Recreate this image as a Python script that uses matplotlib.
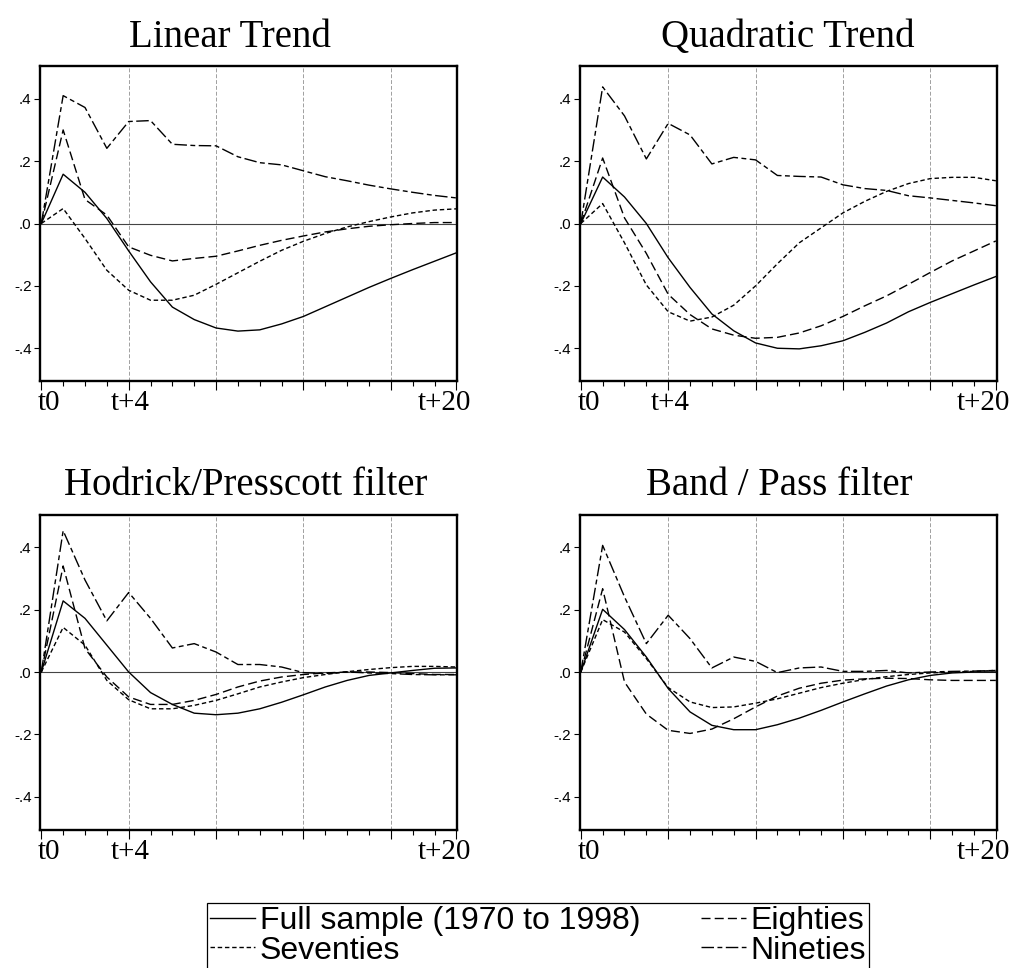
import matplotlib
matplotlib.use('Agg')
import matplotlib.pyplot as plt
from matplotlib.transforms import ScaledTranslation

# 20 periods after the shock, t0 ... t+20 on the axis
steps = list(range(20))

titles = ['Linear Trend', 'Quadratic Trend', 'Hodrick/Presscott filter', 'Band / Pass filter']
series_names = ['Full sample (1970 to 1998)', 'Seventies', 'Eighties', 'Nineties']

lin_full = [0, .158, .100, .016, -.088, -.187, -.268, -.308, -.335, -.345,
            -.341, -.322, -.298, -.267, -.236, -.205, -.176, -.148, -.121, -.094]
lin_seventies = [0, .048, -.048, -.150, -.214, -.246, -.246, -.230, -.195, -.158,
                 -.121, -.086, -.057, -.032, -.011, .006, .021, .034, .043, .047]
lin_eighties = [0, .300, .077, .027, -.075, -.102, -.120, -.112, -.105, -.088,
                -.070, -.054, -.040, -.027, -.017, -.009, -.004, 0, .003, .003]
lin_nineties = [0, .410, .372, .241, .327, .330, .254, .250, .249, .214,
                .195, .188, .169, .150, .137, .123, .111, .100, .090, .082]

quad_full = [0, .149, .085, 0, -.110, -.205, -.290, -.344, -.383, -.400,
             -.402, -.392, -.376, -.349, -.319, -.283, -.253, -.225, -.197, -.170]
quad_seventies = [0, .064, -.062, -.197, -.283, -.313, -.300, -.262, -.200, -.129,
                  -.062, -.014, .034, .071, .103, .128, .144, .148, .148, .137]
quad_eighties = [0, .210, .018, -.096, -.227, -.292, -.338, -.358, -.368, -.365,
                 -.351, -.328, -.298, -.264, -.232, -.195, -.157, -.120, -.088, -.056]
quad_nineties = [0, .438, .345, .207, .321, .284, .191, .212, .204, .154,
                 .151, .149, .124, .112, .106, .089, .082, .074, .066, .057]

hp_full = [0, .228, .172, .086, 0, -.066, -.104, -.132, -.137, -.132,
           -.118, -.097, -.073, -.048, -.027, -.011, -.003, .005, .012, .013]
hp_seventies = [0, .143, .086, -.027, -.089, -.118, -.118, -.107, -.091, -.070,
                -.048, -.032, -.018, -.008, .001, .008, .014, .018, .018, .016]
hp_eighties = [0, .340, .075, -.016, -.080, -.104, -.104, -.091, -.072, -.048,
               -.029, -.016, -.008, -.003, 0, 0, -.002, -.005, -.008, -.008]
hp_nineties = [0, .453, .295, .164, .255, .172, .077, .091, .064, .024,
               .024, .016, -.002, -.005, 0, -.003, -.005, -.008, -.009, -.009]

bp_full = [0, .201, .136, .048, -.053, -.128, -.171, -.185, -.185, -.169,
           -.148, -.123, -.096, -.070, -.045, -.025, -.011, -.003, 0, 0]
bp_seventies = [0, .168, .128, .043, -.050, -.096, -.114, -.112, -.100, -.086,
                -.068, -.050, -.036, -.024, -.015, -.008, -.003, 0, .002, .005]
bp_eighties = [0, .267, -.032, -.135, -.187, -.197, -.183, -.150, -.112, -.077,
               -.052, -.036, -.026, -.022, -.020, -.021, -.025, -.027, -.027, -.027]
bp_nineties = [0, .406, .241, .091, .182, .107, .013, .048, .034, -.002,
               .013, .016, .002, .002, .005, -.003, 0, .002, .003, .005]

panels = [
    [lin_full, lin_seventies, lin_eighties, lin_nineties],
    [quad_full, quad_seventies, quad_eighties, quad_nineties],
    [hp_full, hp_seventies, hp_eighties, hp_nineties],
    [bp_full, bp_seventies, bp_eighties, bp_nineties],
]

yticks = [-.4, -.2, 0, .2, .4]
ytick_labels = ['-.4', '-.2', '.0', '.2', '.4']
xticks = [0, 4, 8, 12, 16, 19]
xtick_labels = [
    ['t0', 't+4', '', '', '', 't+20'],
    ['t0', 't+4', '', '', '', 't+20'],
    ['t0', 't+4', '', '', '', 't+20'],
    ['t0', '', '', '', '', 't+20'],
]

styles = ['-', (0, (3.2, 2.0)), (0, (6.5, 3.0)), (0, (9, 2.5, 3.5, 2.5))]

W, H = 1022, 968
fig = plt.figure(figsize=(W / 100, H / 100), dpi=100)

# pixel boxes of the four panels: left, top
boxes = [(40, 66), (579.5, 66), (40, 514.5), (579.5, 514.5)]
bw, bh = 417, 315
title_x = [0.456, 0.5, 0.494, 0.48]
label_shift = [8, 2, 0, 0, 0, -12]   # px offsets of the x tick labels

handles = []
for k, (left, top) in enumerate(boxes):
    ax = fig.add_axes([left / W, 1 - (top + bh) / H, bw / W, bh / H])
    for g in [4, 8, 12, 16]:
        ax.axvline(g, color='#a0a0a0', lw=0.7, ls=(0, (4, 2)), zorder=0)
    ax.axhline(0, color='#444444', lw=0.8, zorder=1)
    for vals, st, name in zip(panels[k], styles, series_names):
        ln, = ax.plot(steps, vals, color='black', lw=1.0, ls=st, label=name, zorder=2)
        if k == 0:
            handles.append(ln)

    ax.set_xlim(-0.06, 19.03)
    ax.set_ylim(-0.505, 0.505)
    ax.set_yticks(yticks)
    ax.set_yticklabels(ytick_labels, family='Liberation Sans', fontsize=11)
    ax.set_xticks(xticks)
    ax.set_xticks(steps, minor=True)
    ax.set_xticklabels(xtick_labels[k], family='Liberation Serif', fontsize=21)
    ax.tick_params(axis='x', which='major', length=6.5, width=0.8, pad=0)
    ax.tick_params(axis='x', which='minor', length=3.6, width=0.8)
    ax.tick_params(axis='y', length=4.5, width=0.8, pad=1.5)
    for lab, dx in zip(ax.get_xticklabels(), label_shift):
        lab.set_transform(lab.get_transform() + ScaledTranslation(dx / 100, 0, fig.dpi_scale_trans))
    for sp in ax.spines.values():
        sp.set_linewidth(1.7)
    ax.set_title(titles[k], family='Liberation Serif', fontsize=28, pad=14, x=title_x[k])

# legend order: column one Full sample / Seventies, column two Eighties / Nineties
leg = fig.legend(handles, series_names, ncol=2, loc='upper left',
                 bbox_to_anchor=(207 / W, 1 - 903 / H), borderaxespad=0,
                 prop={'family': 'Liberation Sans', 'size': 23},
                 frameon=True, fancybox=False, edgecolor='black', framealpha=1,
                 handlelength=1.4, handletextpad=0.15, columnspacing=1.9,
                 labelspacing=-0.02, borderpad=0.1)
leg.get_frame().set_linewidth(0.9)

fig.savefig('out.png', dpi=100)
